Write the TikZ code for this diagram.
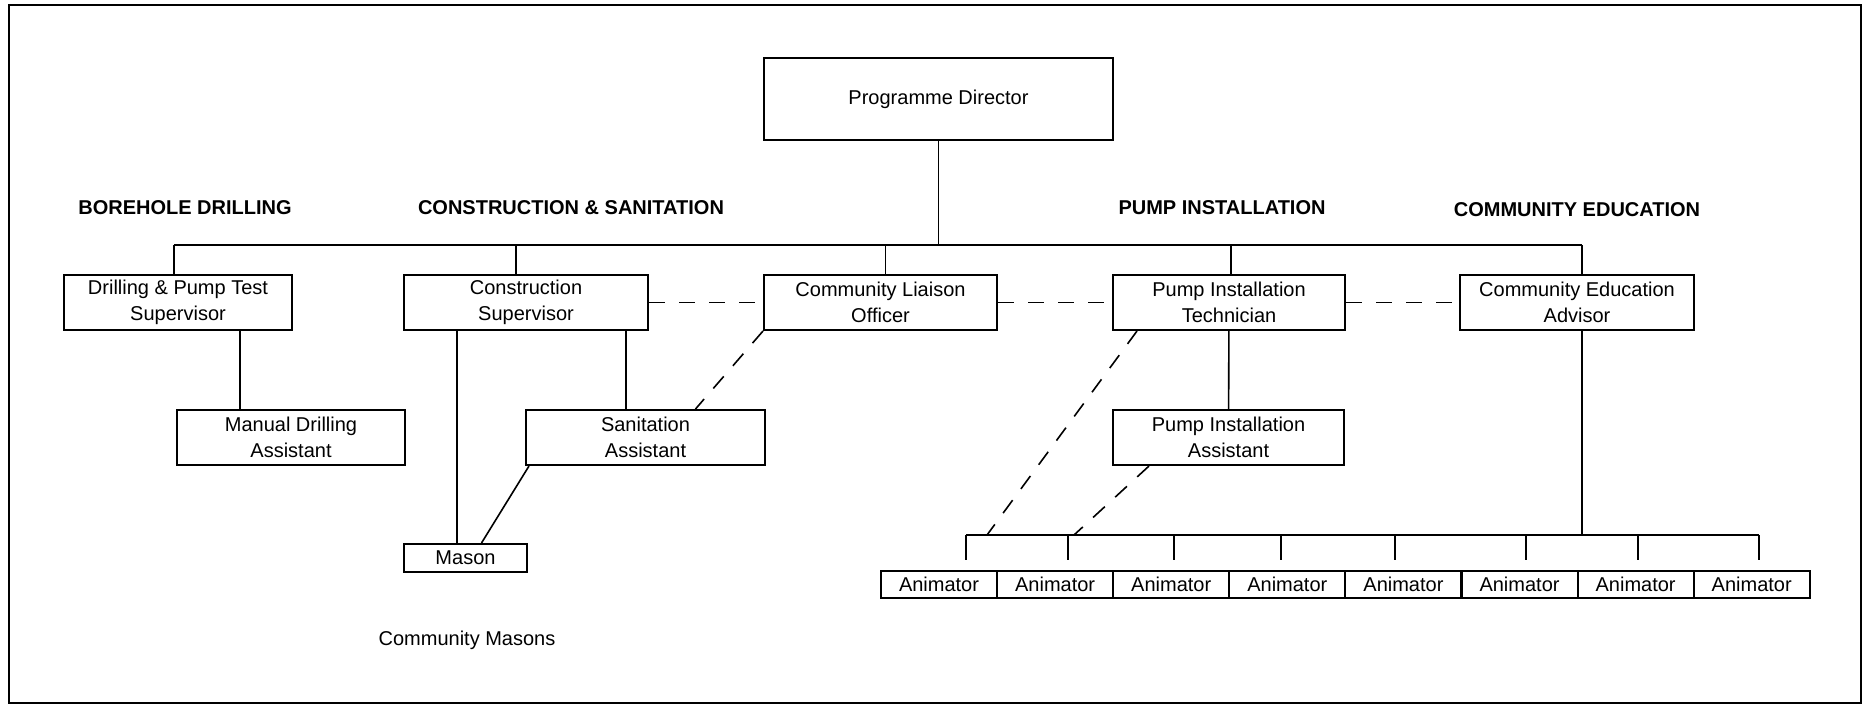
\documentclass[tikz,border=0pt]{standalone}
\usepackage{fontspec}
\setmainfont{Liberation Sans}

\tikzset{
  postbox/.style={draw, line width=1pt, inner sep=0pt, align=center,
    font=\fontsize{10}{13}\selectfont},
  unithead/.style={font=\bfseries\fontsize{10}{12}\selectfont},
  conn/.style={line width=0.8pt},
  liaison/.style={line width=0.8pt, dash pattern=on 8pt off 7pt},
}

\begin{document}
\begin{tikzpicture}[x=0.5pt, y=-0.5pt]
      \useasboundingbox (0,0) rectangle (1866,706);
      \draw[line width=1pt] (9,5) rectangle (1861,703);

      \node[postbox, minimum width=174.5pt, minimum height=41pt] (PD) at (938.5, 99) {Programme Director};

      \node[unithead] (H1) at (185,  208) {BOREHOLE DRILLING};
      \node[unithead] (H2) at (571,  208) {CONSTRUCTION \& SANITATION};
      \node[unithead] (H3) at (1222, 208) {PUMP INSTALLATION};
      \node[unithead] (H4) at (1577, 210) {COMMUNITY EDUCATION};

      \node[postbox, minimum width=114pt,   minimum height=27.5pt] (DS) at (178,    302.5) {Drilling \& Pump Test\\Supervisor};
      \node[postbox, minimum width=122pt,   minimum height=27.5pt] (CS) at (526,    302.5) {Construction\\Supervisor};
      \node[postbox, minimum width=116.5pt, minimum height=27.5pt] (CL) at (880.5,  302.5) {Community Liaison\\Officer};
      \node[postbox, minimum width=116pt,   minimum height=27.5pt] (PT) at (1229,   302.5) {Pump Installation\\Technician};
      \node[postbox, minimum width=117pt,   minimum height=27.5pt] (CE) at (1577,   302.5) {Community Education\\Advisor};

      \node[postbox, minimum width=114pt,   minimum height=27.5pt] (MD) at (291,    437.5) {Manual Drilling\\Assistant};
      \node[postbox, minimum width=119.5pt, minimum height=27.5pt] (SA) at (645.5,  437.5) {Sanitation\\Assistant};
      \node[postbox, minimum width=115.5pt, minimum height=27.5pt] (PA) at (1228.5, 437.5) {Pump Installation\\Assistant};
      \node[postbox, minimum width=61.5pt,  minimum height=14pt]   (M)  at (465.5,  558)   {Mason};
      \node (CM) at (467, 640) {Community Masons};

      \foreach \i in {1,...,8}
        \node[postbox, minimum width=58pt, minimum height=13.5pt] (A\i) at ({939+116.1*(\i-1)}, 584.5) {Animator};

      % main bus
      \coordinate (B) at (938.5, 245);
      \draw[conn] (PD) -- (PD |- B);
      \draw[conn] ([xshift=-2pt]DS.north |- B) -- ([xshift=2.5pt]CE.north |- B);
      \foreach \n/\s in {DS/-2pt,CS/-5pt,CL/2.5pt,PT/1pt,CE/2.5pt}
        \draw[conn] ([xshift=\s]\n.north) -- ([xshift=\s]\n.north |- B);

      \draw[conn] ([xshift=31pt]DS.south) -- ([xshift=31pt]DS.south |- MD.north);
      \draw[conn] ([xshift=50pt]CS.south) -- ([xshift=50pt]CS.south |- SA.north);
      \draw[conn] ([xshift=-34.5pt]CS.south) -- ([xshift=-34.5pt]CS.south |- M.north);
      \draw[conn] ([xshift=2pt]SA.south west) -- ([xshift=8pt]M.north);
      \draw[conn] (PT) -- (PA);

      \draw[liaison] (CS) -- (CL);
      \draw[liaison] (CL) -- (PT);
      \draw[liaison] (PT) -- (CE);
      \draw[liaison] (CL.south west) -- ([xshift=25pt]SA.north);

      % animator bus
      \coordinate (AB) at (966, 535);
      \coordinate (AE) at (1759, 535);
      \coordinate (D1) at (987, 535);
      \coordinate (D2) at (1074, 535);
      \draw[conn] (AB) -- (AE);
      \draw[conn] ([xshift=2.5pt]CE.south) -- ([xshift=2.5pt]CE.south |- AB);
      \draw[liaison] ([xshift=12.5pt]PT.south west) -- (D1);
      \draw[liaison] ([xshift=18.5pt]PA.south west) -- (D2);
      \foreach \x [count=\i] in {966,1068,1174,1281,1395,1526,1638,1759}
        \draw[conn, shorten >=5pt] (\x,535) -- (\x,535 |- A\i.north);
    \end{tikzpicture}
\end{document}
